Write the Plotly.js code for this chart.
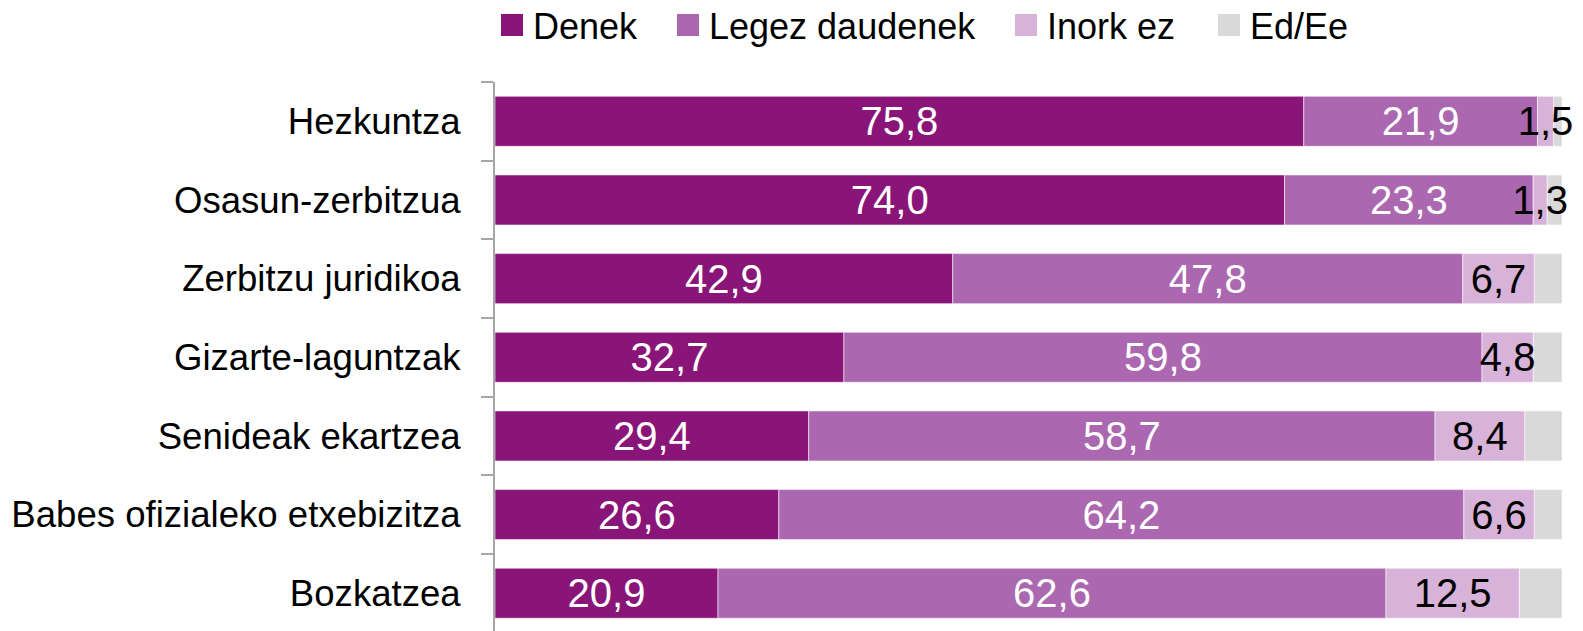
<!DOCTYPE html>
<html>
<head>
<meta charset="utf-8">
<script src="https://cdn.plot.ly/plotly-3.0.1.min.js"></script>
<style>html,body{margin:0;padding:0;background:#fff;}#chart{width:1583px;height:631px;}</style>
</head>
<body>
<div id="chart"></div>
<script>
var categories = ["Hezkuntza", "Osasun-zerbitzua", "Zerbitzu juridikoa", "Gizarte-laguntzak", "Senideak ekartzea", "Babes ofizialeko etxebizitza", "Bozkatzea"];
var seriesNames = ["Denek", "Legez daudenek", "Inork ez", "Ed/Ee"];
var denek = [75.8, 74.0, 42.9, 32.7, 29.4, 26.6, 20.9];
var legez = [21.9, 23.3, 47.8, 59.8, 58.7, 64.2, 62.6];
var inork = [1.5, 1.3, 6.7, 4.8, 8.4, 6.6, 12.5];
var edee = [0.8, 1.4, 2.6, 2.7, 3.5, 2.6, 4.0];
var colors = ["#8a1579", "#ab68b0", "#d8b3d9", "#d9d9d9"];
var textColors = ["#ffffff", "#ffffff", "#000000", "#000000"];
var showText = [true, true, true, false];
var seriesValues = [denek, legez, inork, edee];

var W = 1583, H = 631;
var M = {l: 495, r: 21, t: 82, b: 0};
var FONT = "'Liberation Sans', Arial, sans-serif";

// stacked bases (cumulative sums of the previous series)
var bases = [];
var running = categories.map(function () { return 0; });
seriesValues.forEach(function (vals) {
  bases.push(running.slice());
  running = running.map(function (r, j) { return r + vals[j]; });
});

var traces = seriesValues.map(function (vals, i) {
  return {
    type: "bar",
    orientation: "h",
    name: seriesNames[i],
    y: categories,
    x: vals,
    base: bases[i],
    marker: {color: colors[i], line: {color: "rgba(255,255,255,0.55)", width: 1}},
    texttemplate: showText[i] ? "%{x:.1f}" : "",
    textposition: showText[i] ? "inside" : "none",
    insidetextanchor: "middle",
    textangle: 0,
    constraintext: "none",
    cliponaxis: false,
    insidetextfont: {family: FONT, size: 40, color: textColors[i]},
    showlegend: false,
    hoverinfo: "skip"
  };
});
// draw the Ed/Ee segments first so that overflowing labels stay on top
var drawOrder = [3, 0, 1, 2];
var orderedTraces = drawOrder.map(function (k) { return traces[k]; });

// custom legend (big square markers) built from series names / colors
var pw = W - M.l - M.r, ph = H - M.t - M.b;
function px2x(px) { return (px - M.l) / pw; }
function py2y(py) { return (H - M.b - py) / ph; }
var legendSquareLeft = [501, 677, 1015, 1218];
var sq = 22, legendCy = 25;
var shapes = [], annotations = [];
seriesNames.forEach(function (name, i) {
  shapes.push({
    type: "rect", xref: "paper", yref: "paper",
    x0: px2x(legendSquareLeft[i]), x1: px2x(legendSquareLeft[i] + sq),
    y0: py2y(legendCy + sq / 2), y1: py2y(legendCy - sq / 2),
    fillcolor: colors[i], line: {width: 0}
  });
  annotations.push({
    xref: "paper", yref: "paper",
    x: px2x(legendSquareLeft[i] + sq + 8), y: py2y(legendCy + 1),
    xanchor: "left", yanchor: "middle", showarrow: false,
    text: name, font: {family: FONT, size: 36, color: "#000"}
  });
});

var layout = {
  width: W, height: H,
  margin: M,
  barmode: "overlay",
  bargap: 0.364,
  separators: ",.",
  paper_bgcolor: "#fff",
  plot_bgcolor: "#fff",
  showlegend: false,
  font: {family: FONT, color: "#000"},
  xaxis: {range: [0, 100], visible: false, fixedrange: true},
  yaxis: {
    type: "category",
    categoryorder: "array",
    categoryarray: categories,
    range: [6.48, -0.5],
    showline: true, linecolor: "#a6a6a6", linewidth: 2,
    ticks: "outside", ticklen: 12, tickwidth: 2, tickcolor: "#a6a6a6",
    tickson: "boundaries",
    showgrid: false, zeroline: false,
    ticklabelstandoff: 25,
    tickfont: {family: FONT, size: 36.6, color: "#000"},
    fixedrange: true
  },
  shapes: shapes,
  annotations: annotations
};

Plotly.newPlot("chart", orderedTraces, layout, {displayModeBar: false, staticPlot: true});
</script>
</body>
</html>
